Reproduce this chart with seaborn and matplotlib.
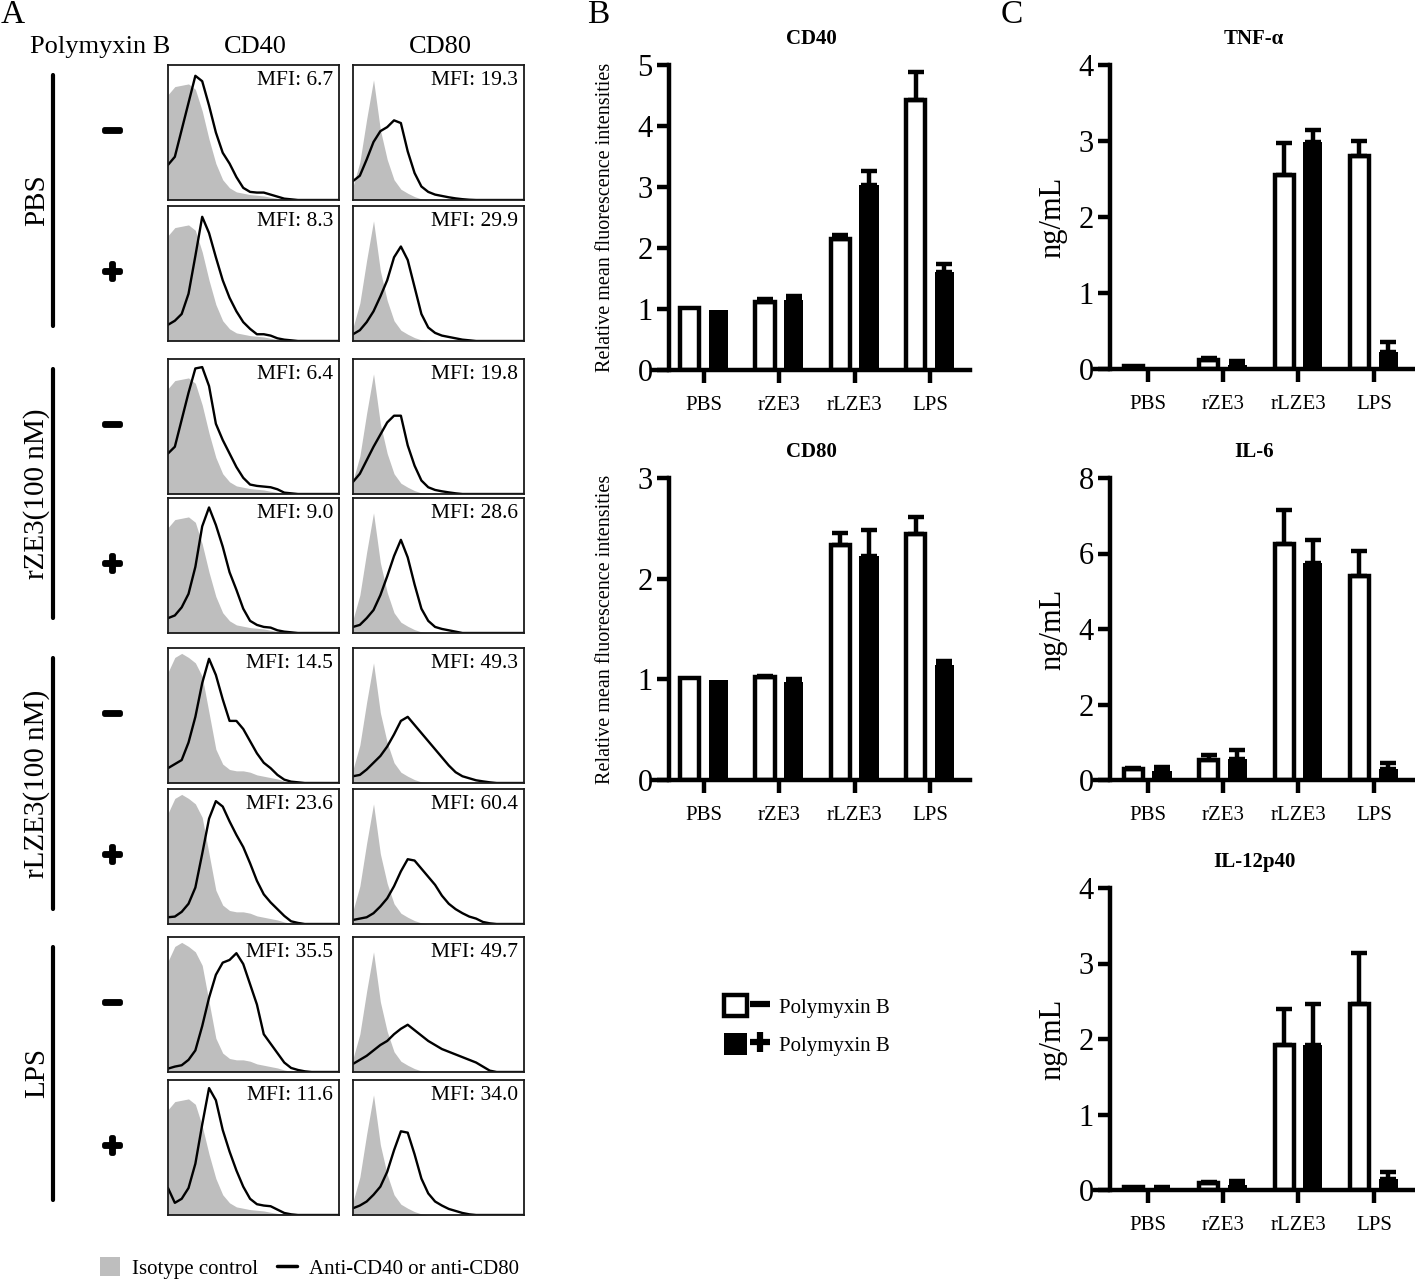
import pandas as pd
import seaborn as sns
import matplotlib.pyplot as plt
from matplotlib.patches import Patch
from matplotlib.lines import Line2D
from matplotlib.legend_handler import HandlerTuple
import matplotlib.patheffects as pe

sns.set_style("ticks", {"axes.edgecolor": "black", "xtick.color": "black",
                        "ytick.color": "black", "text.color": "black",
                        "axes.labelcolor": "black"})
plt.rcParams["font.family"] = ["Liberation Serif", "DejaVu Serif"]

# ---------------- A: flow histograms (height as fraction of box) ----------------
channel = [0.00, 0.04, 0.08, 0.12, 0.16, 0.20, 0.24, 0.28, 0.32, 0.36, 0.40, 0.44, 0.48,
           0.52, 0.56, 0.60, 0.64, 0.68, 0.72, 0.76, 0.80, 0.84, 0.88, 0.92, 0.96, 1.00]

iso_cd40_a = [0.78, 0.84, 0.85, 0.86, 0.82, 0.66, 0.45, 0.27, 0.15, 0.09, 0.06, 0.05, 0.04,
              0.035, 0.03, 0.02, 0.012, 0.005, 0, 0, 0, 0, 0, 0, 0, 0]
iso_cd40_b = [0.82, 0.93, 0.96, 0.93, 0.89, 0.79, 0.52, 0.25, 0.14, 0.10, 0.09, 0.09, 0.08,
              0.06, 0.05, 0.04, 0.03, 0.015, 0.005, 0, 0, 0, 0, 0, 0, 0]
iso_cd80 = [0.10, 0.28, 0.60, 0.89, 0.52, 0.30, 0.15, 0.08, 0.05, 0.025, 0.008, 0, 0,
            0, 0, 0, 0, 0, 0, 0, 0, 0, 0, 0, 0, 0]

cd40_pbs_neg = [0.26, 0.32, 0.52, 0.72, 0.92, 0.88, 0.70, 0.50, 0.35, 0.27, 0.17, 0.09, 0.06,
                0.055, 0.055, 0.04, 0.025, 0.01, 0.005, 0, 0, 0, 0, 0, 0, 0]
cd40_pbs_pos = [0.12, 0.15, 0.20, 0.35, 0.63, 0.92, 0.80, 0.62, 0.45, 0.32, 0.22, 0.14, 0.09,
                0.05, 0.05, 0.04, 0.02, 0.01, 0.005, 0, 0, 0, 0, 0, 0, 0]
cd40_rze3_neg = [0.30, 0.35, 0.55, 0.75, 0.93, 0.94, 0.80, 0.52, 0.40, 0.30, 0.20, 0.12, 0.07,
                 0.06, 0.055, 0.05, 0.035, 0.01, 0.005, 0, 0, 0, 0, 0, 0, 0]
cd40_rze3_pos = [0.11, 0.13, 0.19, 0.29, 0.49, 0.79, 0.93, 0.80, 0.64, 0.45, 0.32, 0.18, 0.09,
                 0.06, 0.045, 0.04, 0.02, 0.01, 0.005, 0, 0, 0, 0, 0, 0, 0]
cd40_rlze3_neg = [0.11, 0.14, 0.17, 0.30, 0.49, 0.74, 0.92, 0.80, 0.62, 0.46, 0.46, 0.40, 0.31,
                  0.22, 0.15, 0.11, 0.06, 0.025, 0.01, 0.005, 0, 0, 0, 0, 0, 0]
cd40_rlze3_pos = [0.05, 0.055, 0.09, 0.15, 0.27, 0.52, 0.78, 0.91, 0.87, 0.76, 0.66, 0.57, 0.45,
                  0.32, 0.22, 0.16, 0.11, 0.06, 0.02, 0.008, 0, 0, 0, 0, 0, 0]
cd40_lps_neg = [0.025, 0.04, 0.05, 0.09, 0.16, 0.34, 0.55, 0.72, 0.81, 0.83, 0.88, 0.80, 0.65,
                0.50, 0.28, 0.21, 0.14, 0.07, 0.03, 0.015, 0.005, 0, 0, 0, 0, 0]
cd40_lps_pos = [0.20, 0.09, 0.12, 0.20, 0.38, 0.67, 0.94, 0.85, 0.63, 0.47, 0.33, 0.21, 0.12,
                0.08, 0.07, 0.065, 0.04, 0.015, 0.005, 0, 0, 0, 0, 0, 0, 0]

cd80_pbs_neg = [0.14, 0.18, 0.30, 0.43, 0.51, 0.54, 0.59, 0.57, 0.36, 0.20, 0.10, 0.06, 0.04,
                0.03, 0.02, 0.012, 0.006, 0.002, 0, 0, 0, 0, 0, 0, 0, 0]
cd80_pbs_pos = [0.05, 0.08, 0.14, 0.22, 0.33, 0.45, 0.62, 0.70, 0.60, 0.40, 0.20, 0.10, 0.06,
                0.04, 0.03, 0.02, 0.01, 0.005, 0, 0, 0, 0, 0, 0, 0, 0]
cd80_rze3_neg = [0.09, 0.15, 0.25, 0.35, 0.44, 0.53, 0.58, 0.58, 0.36, 0.21, 0.10, 0.05, 0.03,
                 0.02, 0.012, 0.005, 0, 0, 0, 0, 0, 0, 0, 0, 0, 0]
cd80_rze3_pos = [0.045, 0.06, 0.11, 0.17, 0.28, 0.42, 0.57, 0.69, 0.56, 0.36, 0.18, 0.09, 0.045,
                 0.03, 0.02, 0.01, 0, 0, 0, 0, 0, 0, 0, 0, 0, 0]
cd80_rlze3_neg = [0.05, 0.06, 0.10, 0.15, 0.20, 0.27, 0.36, 0.46, 0.49, 0.43, 0.37, 0.31, 0.25,
                  0.19, 0.13, 0.08, 0.05, 0.035, 0.02, 0.012, 0.005, 0, 0, 0, 0, 0]
cd80_rlze3_pos = [0.03, 0.04, 0.05, 0.08, 0.13, 0.19, 0.28, 0.39, 0.48, 0.47, 0.41, 0.35, 0.29,
                  0.21, 0.15, 0.11, 0.08, 0.055, 0.04, 0.015, 0.005, 0, 0, 0, 0, 0]
cd80_lps_neg = [0.06, 0.09, 0.12, 0.16, 0.20, 0.23, 0.28, 0.32, 0.35, 0.31, 0.27, 0.23, 0.20,
                0.17, 0.15, 0.13, 0.11, 0.09, 0.07, 0.04, 0.01, 0, 0, 0, 0, 0]
cd80_lps_pos = [0.05, 0.07, 0.10, 0.15, 0.21, 0.32, 0.48, 0.62, 0.61, 0.45, 0.27, 0.16, 0.10,
                0.07, 0.045, 0.03, 0.015, 0.005, 0, 0, 0, 0, 0, 0, 0, 0]

mfi_cd40 = ["6.7", "8.3", "6.4", "9.0", "14.5", "23.6", "35.5", "11.6"]
mfi_cd80 = ["19.3", "29.9", "19.8", "28.6", "49.3", "60.4", "49.7", "34.0"]
treatments = ["PBS", "rZE3(100 nM)", "rLZE3(100 nM)", "LPS"]

# ---------------- B / C: bar charts ----------------
groups = ["PBS", "rZE3", "rLZE3", "LPS"]
cd40_neg = [1.01, 1.12, 2.15, 4.43]
cd40_neg_err = [0, 0.05, 0.06, 0.46]
cd40_pos = [0.99, 1.14, 3.04, 1.60]
cd40_pos_err = [0, 0.08, 0.22, 0.13]
cd80_neg = [1.01, 1.025, 2.33, 2.44]
cd80_neg_err = [0, 0.01, 0.12, 0.17]
cd80_pos = [0.99, 0.97, 2.23, 1.14]
cd80_pos_err = [0, 0.03, 0.25, 0.04]
tnf_neg = [0.04, 0.12, 2.55, 2.80]
tnf_neg_err = [0, 0.025, 0.43, 0.20]
tnf_pos = [0.02, 0.05, 2.99, 0.23]
tnf_pos_err = [0, 0.06, 0.15, 0.12]
il6_neg = [0.29, 0.53, 6.24, 5.41]
il6_neg_err = [0.04, 0.13, 0.90, 0.66]
il6_pos = [0.24, 0.56, 5.75, 0.29]
il6_pos_err = [0.11, 0.23, 0.62, 0.17]
il12_neg = [0.044, 0.09, 1.92, 2.47]
il12_neg_err = [0, 0.02, 0.48, 0.67]
il12_pos = [0.02, 0.06, 1.92, 0.15]
il12_pos_err = [0.025, 0.06, 0.54, 0.09]

W, H = 1415, 1283
fig = plt.figure(figsize=(W / 100, H / 100), dpi=100)


def px_axes(left, top, right, bottom):
    return fig.add_axes([left / W, 1 - bottom / H, (right - left) / W, (bottom - top) / H])


# ---- panel A ----
GRAY = "#bebebe"
row_tops = [65, 206, 359, 498, 648, 789, 937, 1080]
box_h = 135
cd40_curves = [cd40_pbs_neg, cd40_pbs_pos, cd40_rze3_neg, cd40_rze3_pos,
               cd40_rlze3_neg, cd40_rlze3_pos, cd40_lps_neg, cd40_lps_pos]
cd80_curves = [cd80_pbs_neg, cd80_pbs_pos, cd80_rze3_neg, cd80_rze3_pos,
               cd80_rlze3_neg, cd80_rlze3_pos, cd80_lps_neg, cd80_lps_pos]
cd40_iso = [iso_cd40_a, iso_cd40_a, iso_cd40_a, iso_cd40_a,
            iso_cd40_b, iso_cd40_b, iso_cd40_b, iso_cd40_a]

for i, top in enumerate(row_tops):
    for left, iso, curve, mfi in [(168, cd40_iso[i], cd40_curves[i], mfi_cd40[i]),
                                  (353, iso_cd80, cd80_curves[i], mfi_cd80[i])]:
        ax = px_axes(left, top, left + 171, top + box_h)
        ax.fill_between(channel, iso, color=GRAY, lw=0)
        sns.lineplot(x=channel, y=curve, ax=ax, color="black", lw=1.7)
        ax.set_xlim(0, 1)
        ax.set_ylim(0, 1.0)
        ax.set_xticks([])
        ax.set_yticks([])
        ax.set_xlabel("")
        ax.set_ylabel("")
        for s in ax.spines.values():
            s.set_visible(True)
            s.set_linewidth(1.3)
            s.set_color("#1a1a1a")
        ax.text(0.965, 0.955, "MFI: " + mfi, transform=ax.transAxes, ha="right", va="top",
                fontsize=15.5)

thick = [pe.withStroke(linewidth=3.5, foreground="black")]
for k, name in enumerate(treatments):
    t0 = row_tops[2 * k]
    t1 = row_tops[2 * k + 1] + box_h
    fig.add_artist(Line2D([53 / W, 53 / W], [1 - (t0 + 10) / H, 1 - (t1 - 15) / H],
                          transform=fig.transFigure, color="black", lw=3))
    fig.text(37 / W, 1 - (t0 + t1 - 5) / 2 / H, name, rotation=90, ha="center", va="center",
             fontsize=21)
    for j, sign in enumerate(["\u2212", "+"]):
        yc = row_tops[2 * k + j] + box_h / 2
        fig.text(112 / W, 1 - yc / H, sign, ha="center", va="center", fontsize=24,
                 fontweight="bold", path_effects=thick)

fig.text(100 / W, 1 - 47 / H, "Polymyxin B", ha="center", va="center", fontsize=19)
fig.text(255 / W, 1 - 47 / H, "CD40", ha="center", va="center", fontsize=19)
fig.text(440 / W, 1 - 47 / H, "CD80", ha="center", va="center", fontsize=19)

for letter, x in [("A", 13), ("B", 598), ("C", 1012)]:
    fig.text(x / W, 1 - 15 / H, letter, ha="center", va="center", fontsize=24)

fig.legend(handles=[Patch(facecolor=GRAY, edgecolor="none"),
                    Line2D([], [], color="black", lw=2.5)],
           labels=["Isotype control", "Anti-CD40 or anti-CD80"],
           loc="center left", bbox_to_anchor=(100 / W, 1 - 1268 / H), ncol=2,
           frameon=False, fontsize=15, handlelength=0.95, handleheight=1.05,
           handletextpad=0.6, columnspacing=0.9, borderpad=0, borderaxespad=0)

# ---- panels B and C ----
LW = 3.2


def bar_panel(rect, neg, neg_err, pos, pos_err, ymax, yticks, ylabel, title, xlim, spine_x,
              ylab_x, ylab_size):
    ax = px_axes(*rect)
    df = pd.DataFrame({"group": groups * 2,
                       "pmb": ["\u2212"] * 4 + ["+"] * 4,
                       "value": neg + pos})
    sns.barplot(data=df, x="group", y="value", hue="pmb", hue_order=["\u2212", "+"],
                palette={"\u2212": "white", "+": "black"}, saturation=1, width=0.76,
                gap=0.33, edgecolor="black", linewidth=LW, errorbar=None, legend=False,
                ax=ax)
    errs = {"\u2212": neg_err, "+": pos_err}
    for p in ax.patches:
        xc = p.get_x() + p.get_width() / 2
        gi = int(round(xc))
        side = "\u2212" if xc < gi else "+"
        p.set_joinstyle("miter")
        if side == "+":
            p.set_linewidth(0)
        e = errs[side][gi]
        if e > 0:
            ax.errorbar(xc, p.get_height(), yerr=[[0], [e]], fmt="none", ecolor="black",
                        elinewidth=LW, capsize=5.5, capthick=LW, zorder=3)
    ax.set_xlim(*xlim)
    ax.set_ylim(0, ymax)
    ax.set_yticks(yticks)
    sns.despine(ax=ax)
    ax.spines["left"].set_position(("data", spine_x))
    for s in ["left", "bottom"]:
        ax.spines[s].set_linewidth(LW)
        ax.spines[s].set_color("black")
    ax.tick_params(axis="y", length=8.5, width=LW, labelsize=22, pad=3, color="black")
    ax.tick_params(axis="x", length=9, width=LW, labelsize=15, pad=10, color="black")
    ax.set_xlabel("")
    ax.set_ylabel(ylabel, fontsize=ylab_size)
    ax.yaxis.set_label_coords(ylab_x, 0.5)
    ax.set_title(title, fontsize=15, fontweight="bold", pad=15)
    return ax


xl_b = (-0.69, 3.53)
xl_c = (-0.70, 3.52)
rml = "Relative mean fluorescence intensities"
bar_panel((652, 65, 970, 370), cd40_neg, cd40_neg_err, cd40_pos, cd40_pos_err, 5,
          [0, 1, 2, 3, 4, 5], rml, "CD40", xl_b, -0.47, -0.116, 14.5)
bar_panel((652, 478, 970, 780), cd80_neg, cd80_neg_err, cd80_pos, cd80_pos_err, 3,
          [0, 1, 2, 3], rml, "CD80", xl_b, -0.47, -0.116, 14.5)
bar_panel((1095, 65, 1413, 369), tnf_neg, tnf_neg_err, tnf_pos, tnf_pos_err, 4,
          [0, 1, 2, 3, 4], "ng/mL", "TNF-\u03b1", xl_c, -0.505, -0.088, 22)
bar_panel((1095, 478, 1413, 780), il6_neg, il6_neg_err, il6_pos, il6_pos_err, 8,
          [0, 2, 4, 6, 8], "ng/mL", "IL-6", xl_c, -0.505, -0.088, 22)
bar_panel((1095, 888, 1413, 1190), il12_neg, il12_neg_err, il12_pos, il12_pos_err, 4,
          [0, 1, 2, 3, 4], "ng/mL", "IL-12p40", xl_c, -0.505, -0.088, 22)

# bar legend
minus_h = (Patch(facecolor="white", edgecolor="black", lw=LW),
           Line2D([], [], color="black", marker="_", ls="none", markersize=14, mew=4.5))
plus_h = (Patch(facecolor="black", edgecolor="black", lw=0),
          Line2D([], [], color="black", marker="+", ls="none", markersize=14, mew=4.5))
fig.legend(handles=[minus_h, plus_h], labels=["Polymyxin B", "Polymyxin B"],
           handler_map={tuple: HandlerTuple(ndivide=None, pad=0.1)},
           loc="upper left", bbox_to_anchor=(724 / W, 1 - 995 / H), frameon=False,
           fontsize=15, handlelength=2.3, handleheight=1.2, handletextpad=0.35,
           labelspacing=0.75, borderpad=0, borderaxespad=0)

fig.savefig("out.png", dpi=100)
